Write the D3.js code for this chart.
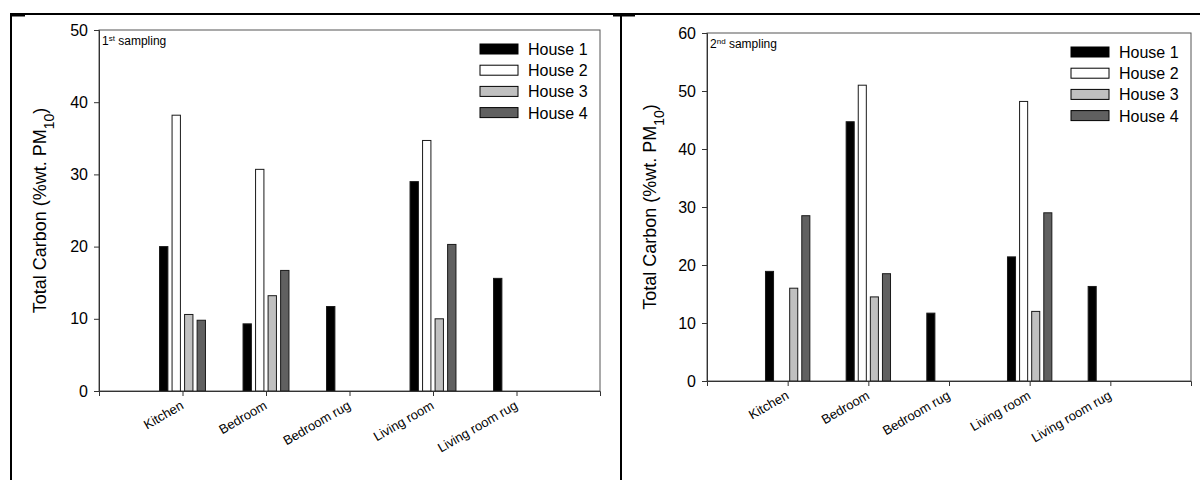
<!DOCTYPE html>
<html>
<head>
<meta charset="utf-8">
<script src="https://cdn.jsdelivr.net/npm/d3@7"></script>
<style>
  body { margin: 0; background: #fff; }
  svg { font-family: "Liberation Sans", Arial, sans-serif; }
</style>
</head>
<body>
<svg id="chart" width="1200" height="480"></svg>
<script>
// Data
const rooms = ["Kitchen", "Bedroom", "Bedroom rug", "Living room", "Living room rug"];
const houses = ["House 1", "House 2", "House 3", "House 4"];
const houseColors = ["#000000", "#ffffff", "#c0c0c0", "#606060"];

// 1st sampling
const first1 = [20.0, 9.3, 11.7, 29.0, 15.6];
const first2 = [38.2, 30.7, null, 34.7, null];
const first3 = [10.6, 13.2, null, 10.0, null];
const first4 = [9.8, 16.7, null, 20.3, null];

// 2nd sampling
const second1 = [18.9, 44.7, 11.7, 21.4, 16.3];
const second2 = [null, 51.0, null, 48.2, null];
const second3 = [16.0, 14.5, null, 12.0, null];
const second4 = [28.5, 18.5, null, 29.0, null];

const yTicks1 = [0, 10, 20, 30, 40, 50];
const yTicks2 = [0, 10, 20, 30, 40, 50, 60];

const svg = d3.select("#chart");

// outer frame lines of the figure
svg.append("line").attr("x1", 10).attr("x2", 1200).attr("y1", 14).attr("y2", 14)
  .attr("stroke", "#000").attr("stroke-width", 2);
svg.append("line").attr("x1", 11).attr("x2", 11).attr("y1", 14).attr("y2", 480)
  .attr("stroke", "#000").attr("stroke-width", 2);
svg.append("line").attr("x1", 621).attr("x2", 621).attr("y1", 14).attr("y2", 480)
  .attr("stroke", "#000").attr("stroke-width", 2);
svg.append("line").attr("x1", 11).attr("x2", 25).attr("y1", 15).attr("y2", 15)
  .attr("stroke", "#000").attr("stroke-width", 3);
svg.append("line").attr("x1", 613).attr("x2", 635).attr("y1", 15).attr("y2", 15)
  .attr("stroke", "#000").attr("stroke-width", 3);

function drawPanel(opts) {
  const series = opts.series;
  const x = d3.scaleLinear().domain([0, 6]).range([opts.left, opts.right]);
  const y = d3.scaleLinear().domain([0, opts.yMax]).range([opts.bottom, opts.top]);
  const slot = 0.15, barW = 0.1;

  const g = svg.append("g");

  // plot frame
  g.append("rect")
    .attr("x", opts.left).attr("y", opts.top)
    .attr("width", opts.right - opts.left).attr("height", opts.bottom - opts.top)
    .attr("fill", "none").attr("stroke", "#555").attr("stroke-width", 1);

  // bars
  series.forEach((vals, j) => {
    g.append("g").selectAll("rect")
      .data(vals.map((v, i) => ({ v: v, i: i })).filter(d => d.v != null))
      .enter()
      .append("rect")
      .attr("x", d => x(d.i + 1 + (j - 1.5) * slot - barW / 2))
      .attr("width", x(barW) - x(0))
      .attr("y", d => y(d.v))
      .attr("height", d => y(0) - y(d.v))
      .attr("fill", houseColors[j])
      .attr("stroke", "#1a1a1a")
      .attr("stroke-width", 1);
  });

  // y axis
  const yAxis = g.append("g")
    .attr("transform", `translate(${opts.left},0)`)
    .call(d3.axisLeft(y).tickValues(opts.yTicks).tickSize(5).tickPadding(6).tickFormat(d3.format("d")));
  yAxis.select(".domain").attr("stroke", "#333");
  yAxis.selectAll(".tick line").attr("stroke", "#333");
  yAxis.selectAll("text").attr("font-size", 16).attr("fill", "#000")
    .attr("font-family", "'Liberation Sans', Arial, sans-serif");

  // x axis
  const xAxis = g.append("g")
    .attr("transform", `translate(0,${opts.bottom})`)
    .call(d3.axisBottom(x).tickValues([1, 2, 3, 4, 5]).tickSize(5).tickFormat(""));
  xAxis.select(".domain").attr("stroke", "#333");
  xAxis.selectAll(".tick line").attr("stroke", "#333");

  g.selectAll(".xlab")
    .data(rooms)
    .enter()
    .append("text")
    .attr("class", "xlab")
    .attr("transform", (d, i) => `translate(${x(i + 1) + 2},${opts.bottom + 17}) rotate(-30)`)
    .attr("text-anchor", "end")
    .attr("font-size", 13)
    .text(d => d);

  // y title
  const t = g.append("text")
    .attr("transform", `translate(${opts.titleX},${(opts.top + opts.bottom) / 2}) rotate(-90)`)
    .attr("text-anchor", "middle")
    .attr("font-size", 18);
  t.append("tspan").text("Total Carbon (%wt. PM");
  t.append("tspan").attr("baseline-shift", "sub").attr("font-size", 14).text("10");
  t.append("tspan").text(")");

  // panel note
  const n = g.append("text")
    .attr("x", opts.left + 3).attr("y", opts.top + 15)
    .attr("font-size", 12);
  n.append("tspan").text(opts.noteNum);
  n.append("tspan").attr("baseline-shift", "super").attr("font-size", 8).text(opts.noteSup);
  n.append("tspan").text(" sampling");

  // legend
  const leg = g.append("g").selectAll("g")
    .data(houses)
    .enter()
    .append("g")
    .attr("transform", (d, i) => `translate(${opts.right - 120},${opts.top + 19 + i * 21.2})`);
  leg.append("rect")
    .attr("x", 0).attr("y", -5).attr("width", 38).attr("height", 10)
    .attr("fill", (d, i) => houseColors[i])
    .attr("stroke", "#000").attr("stroke-width", 1);
  leg.append("text")
    .attr("x", 48).attr("y", 6)
    .attr("font-size", 16)
    .text(d => d);
}

drawPanel({
  series: [first1, first2, first3, first4],
  left: 99, right: 600, top: 30, bottom: 391,
  yMax: 50, yTicks: yTicks1, titleX: 46,
  noteNum: "1", noteSup: "st"
});

drawPanel({
  series: [second1, second2, second3, second4],
  left: 707, right: 1191, top: 33, bottom: 381,
  yMax: 60, yTicks: yTicks2, titleX: 656,
  noteNum: "2", noteSup: "nd"
});
</script>
</body>
</html>
